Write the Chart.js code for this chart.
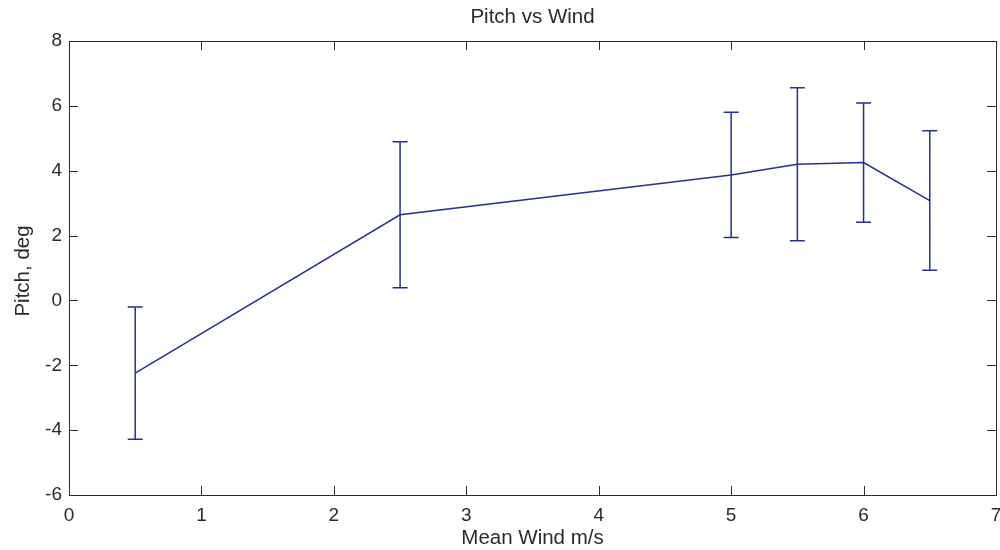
<!DOCTYPE html>
<html>
<head>
<meta charset="utf-8">
<title>Pitch vs Wind</title>
<script src="https://cdn.jsdelivr.net/npm/chart.js@4/dist/chart.umd.min.js"></script>
<style>
  html, body { margin: 0; padding: 0; background: #fff; }
  canvas { display: block; }
</style>
</head>
<body>
<canvas id="pitchChart" width="1000" height="550"></canvas>
<script>
// データ
const winds = [0.5, 2.5, 5, 5.5, 6, 6.5];
const pitch = [-2.24, 2.64, 3.87, 4.2, 4.25, 3.08];
const pitchErr = [2.04, 2.25, 1.93, 2.36, 1.84, 2.15];
const xTicks = [0, 1, 2, 3, 4, 5, 6, 7];
const yTicks = [-6, -4, -2, 0, 2, 4, 6, 8];

const lineColor = "#25318f";
const axisColor = "#2a2a2a";
const fontFamily = "'Liberation Sans', Arial, sans-serif";

// MATLAB風の枠・内向き目盛り・タイトル
const framePlugin = {
  id: "frame",
  afterDraw(chart) {
    const { ctx, chartArea: a, scales } = chart;
    ctx.save();
    ctx.strokeStyle = axisColor;
    ctx.lineWidth = 1;
    ctx.strokeRect(a.left + 0.5, a.top + 0.5, a.right - a.left, a.bottom - a.top);
    const tl = 9;
    ctx.beginPath();
    xTicks.forEach((v) => {
      const px = Math.round(scales.x.getPixelForValue(v)) + 0.5;
      ctx.moveTo(px, a.bottom);
      ctx.lineTo(px, a.bottom - tl);
      ctx.moveTo(px, a.top);
      ctx.lineTo(px, a.top + tl);
    });
    yTicks.forEach((v) => {
      const py = Math.round(scales.y.getPixelForValue(v)) + 0.5;
      ctx.moveTo(a.left, py);
      ctx.lineTo(a.left + tl, py);
      ctx.moveTo(a.right, py);
      ctx.lineTo(a.right - tl, py);
    });
    ctx.stroke();

    ctx.fillStyle = axisColor;
    ctx.font = "20.5px " + fontFamily;
    ctx.textAlign = "center";
    ctx.textBaseline = "middle";
    ctx.fillText("Pitch vs Wind", (a.left + a.right) / 2, 17);
    ctx.fillText("Mean Wind m/s", (a.left + a.right) / 2, 538);
    ctx.translate(23, (a.top + a.bottom) / 2 + 3);
    ctx.rotate(-Math.PI / 2);
    ctx.fillText("Pitch, deg", 0, 0);
    ctx.restore();
  },
};

// エラーバー
const errorBarPlugin = {
  id: "errorBars",
  afterDatasetsDraw(chart) {
    const { ctx, scales } = chart;
    const cap = 7.5;
    ctx.save();
    ctx.strokeStyle = lineColor;
    ctx.lineWidth = 1.5;
    ctx.beginPath();
    for (let i = 0; i < winds.length; i++) {
      const px = scales.x.getPixelForValue(winds[i]);
      const top = scales.y.getPixelForValue(pitch[i] + pitchErr[i]);
      const bot = scales.y.getPixelForValue(pitch[i] - pitchErr[i]);
      ctx.moveTo(px, top);
      ctx.lineTo(px, bot);
      ctx.moveTo(px - cap, top);
      ctx.lineTo(px + cap, top);
      ctx.moveTo(px - cap, bot);
      ctx.lineTo(px + cap, bot);
    }
    ctx.stroke();
    ctx.restore();
  },
};

const chart = new Chart(document.getElementById("pitchChart"), {
  type: "line",
  data: {
    datasets: [
      {
        label: "Pitch",
        data: winds.map((w, i) => ({ x: w, y: pitch[i] })),
        borderColor: lineColor,
        borderWidth: 1.5,
        pointRadius: 0,
        tension: 0,
        fill: false,
      },
    ],
  },
  options: {
    responsive: false,
    animation: false,
    layout: { padding: { top: 41, right: 4, left: 0, bottom: 0 } },
    plugins: {
      legend: { display: false },
      tooltip: { enabled: false },
      title: { display: false },
    },
    scales: {
      x: {
        type: "linear",
        min: 0,
        max: 7,
        afterFit(scale) {
          scale.height = 55;
          scale.paddingLeft = 0;
          scale.paddingRight = 0;
        },
        afterBuildTicks(scale) { scale.ticks = xTicks.map((v) => ({ value: v })); },
        grid: { display: false, drawTicks: false },
        border: { display: false },
        ticks: {
          padding: 9,
          color: axisColor,
          font: { family: fontFamily, size: 19 },
          maxRotation: 0,
        },
      },
      y: {
        type: "linear",
        min: -6,
        max: 8,
        afterFit(scale) {
          scale.width = 69;
          scale.paddingTop = 0;
          scale.paddingBottom = 0;
        },
        afterBuildTicks(scale) { scale.ticks = yTicks.map((v) => ({ value: v })); },
        grid: { display: false, drawTicks: false },
        border: { display: false },
        ticks: {
          padding: 7,
          color: axisColor,
          font: { family: fontFamily, size: 19 },
        },
      },
    },
  },
  plugins: [errorBarPlugin, framePlugin],
});
</script>
</body>
</html>
